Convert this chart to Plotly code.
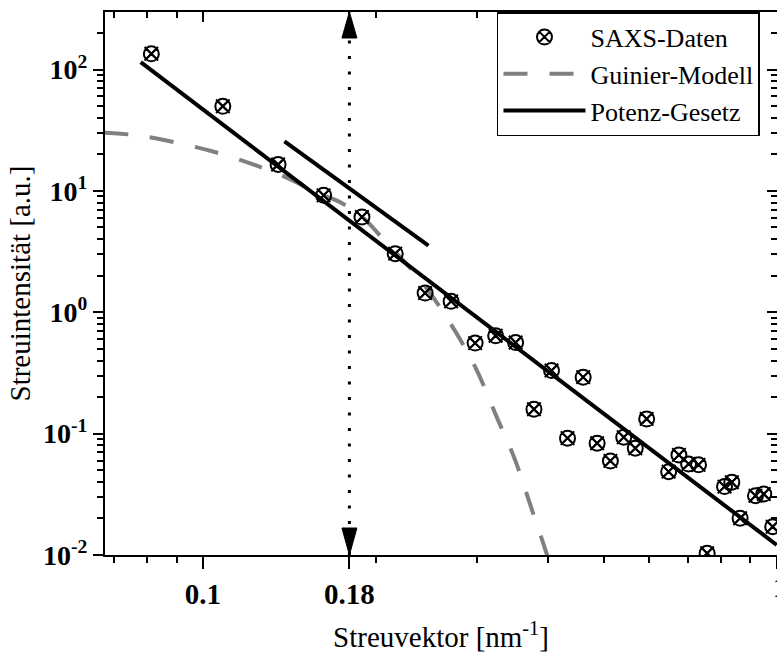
import plotly.graph_objects as go
import math

# ---------------- data ----------------
saxs_q = [0.0813, 0.1083, 0.1352, 0.1623, 0.1893, 0.2163, 0.2439, 0.2707, 0.2981,
          0.3237, 0.3507, 0.3775, 0.4051, 0.4319, 0.4599, 0.4864, 0.5130, 0.5412,
          0.5669, 0.5934, 0.6481, 0.6754, 0.7021, 0.7307, 0.7564, 0.8110, 0.8351,
          0.8634, 0.9183, 0.9493, 0.9840]
saxs_I = [134.7, 49.8, 16.5, 9.19, 6.10, 3.04, 1.44, 1.23, 0.557,
          0.640, 0.563, 0.159, 0.331, 0.0918, 0.292, 0.0834, 0.0596, 0.0935,
          0.0758, 0.1323, 0.0486, 0.0668, 0.0563, 0.0553, 0.01033, 0.0366, 0.0398,
          0.0201, 0.0308, 0.0318, 0.0171]

guinier_q = [0.0673, 0.0783, 0.1037, 0.1340, 0.1611, 0.1723, 0.1890, 0.2078,
             0.2391, 0.2697, 0.2980, 0.3249, 0.3499, 0.3729, 0.3971, 0.4077]
guinier_I = [30.2, 28.3, 21.2, 14.06, 9.31, 8.20, 6.17, 3.84,
             1.854, 0.815, 0.357, 0.138, 0.0608, 0.0250, 0.0103, 0.0068]

power_q = [0.0779, 1.0]
power_I = [114.9, 0.0121]

tangent_q = [0.1387, 0.2472]
tangent_I = [25.6, 3.54]

q_mark = 0.18

x_major = [0.1, 0.18, 1]
x_major_text = ["<b>0.1</b>", "<b>0.18</b>", "<b>1</b>"]
x_minor = [0.07, 0.08, 0.09, 0.2, 0.3, 0.4, 0.5, 0.6, 0.7, 0.8, 0.9]

y_major = [0.01, 0.1, 1, 10, 100]
y_major_text = ["<b>10<sup>-2</sup></b>", "<b>10<sup>-1</sup></b>", "<b>10<sup>0</sup></b>",
                "<b>10<sup>1</sup></b>", "<b>10<sup>2</sup></b>"]
y_minor = [m * 10.0 ** e for e in range(-2, 3) for m in range(2, 10)]

FONT = "Liberation Serif, Times New Roman, serif"

fig = go.Figure()

fig.add_trace(go.Scatter(x=guinier_q, y=guinier_I, mode="lines", name="Guinier-Modell",
                         line=dict(color="#808080", width=4, dash="24px,22px", shape="spline"),
                         legendrank=2))
fig.add_trace(go.Scatter(x=power_q, y=power_I, mode="lines", name="Potenz-Gesetz",
                         line=dict(color="black", width=4), legendrank=3))
fig.add_trace(go.Scatter(x=tangent_q, y=tangent_I, mode="lines", showlegend=False,
                         line=dict(color="black", width=4), hoverinfo="skip"))
fig.add_trace(go.Scatter(x=saxs_q, y=saxs_I, mode="markers", name="SAXS-Daten",
                         marker=dict(symbol="circle-x-open", size=15, color="black",
                                     line=dict(width=2, color="black")),
                         legendrank=1))
fig.add_trace(go.Scatter(x=saxs_q, y=saxs_I, mode="markers", showlegend=False,
                         marker=dict(symbol="x-thin-open", size=13.5, color="black",
                                     line=dict(width=2, color="black")),
                         hoverinfo="skip"))
# helper trace for the mirrored (top / right) axes
fig.add_trace(go.Scatter(x=[0.5], y=[1], xaxis="x2", yaxis="y2", mode="markers",
                         marker=dict(opacity=0), showlegend=False, hoverinfo="skip"))

xr = [math.log10(0.0675), 0.0005]
yr = [-2, 2.474]

fig.update_layout(
    width=777, height=655,
    margin=dict(l=105, r=0, t=12, b=100),
    paper_bgcolor="white", plot_bgcolor="white",
    font=dict(family=FONT, color="black", size=28),
    showlegend=True,
    legend=dict(x=0.5833, y=1, xanchor="left", yanchor="top",
                bgcolor="white", bordercolor="black", borderwidth=1.5,
                font=dict(family=FONT, size=26, color="black"),
                itemwidth=82, tracegroupgap=0),
    xaxis=dict(type="log", range=xr, showline=True, linewidth=2, linecolor="black",
               mirror=False, showgrid=False, zeroline=False,
               ticks="outside", ticklen=12, tickwidth=2, tickcolor="black",
               tickmode="array", tickvals=x_major, ticktext=x_major_text,
               tickfont=dict(family=FONT, size=29, color="black"),
               minor=dict(ticks="outside", ticklen=6, tickwidth=1.5, tickcolor="black",
                          tickmode="array", tickvals=x_minor, showgrid=False),
               title=dict(text="Streuvektor [nm<sup>-1</sup>]",
                          font=dict(family=FONT, size=29, color="black"), standoff=18),
               automargin=False),
    xaxis2=dict(type="log", range=xr, overlaying="x", side="top", anchor="y2",
                showline=True, linewidth=2, linecolor="black", showgrid=False, zeroline=False,
                ticks="inside", ticklen=10, tickwidth=2, tickcolor="black",
                tickmode="array", tickvals=x_major, showticklabels=False,
                minor=dict(ticks="inside", ticklen=6, tickwidth=1.5, tickcolor="black",
                           tickmode="array", tickvals=x_minor, showgrid=False),
                automargin=False),
    yaxis=dict(type="log", range=yr, showline=True, linewidth=2, linecolor="black",
               showgrid=False, zeroline=False,
               ticks="outside", ticklen=10, tickwidth=2, tickcolor="black",
               tickmode="array", tickvals=y_major, ticktext=y_major_text,
               tickfont=dict(family=FONT, size=28, color="black"),
               minor=dict(ticks="outside", ticklen=6, tickwidth=1.5, tickcolor="black",
                          tickmode="array", tickvals=y_minor, showgrid=False),
               title=dict(text="Streuintensität [a.u.]",
                          font=dict(family=FONT, size=29, color="black"), standoff=4),
               automargin=False),
    yaxis2=dict(type="log", range=yr, overlaying="y", side="right", anchor="x2",
                showline=False, showgrid=False, zeroline=False,
                ticks="inside", ticklen=10, tickwidth=2, tickcolor="black",
                tickmode="array", tickvals=y_major, showticklabels=False,
                minor=dict(ticks="inside", ticklen=6, tickwidth=1.5, tickcolor="black",
                           tickmode="array", tickvals=y_minor, showgrid=False),
                automargin=False),
    annotations=[
        dict(text="<b>1</b>", xref="paper", yref="paper", x=1, y=0, xanchor="center",
             yanchor="top", xshift=3, yshift=-14, showarrow=False,
             font=dict(family=FONT, size=29, color="black")),
    ],
    shapes=[
        dict(type="line", xref="x", yref="paper", x0=q_mark, x1=q_mark, y0=0, y1=1,
             line=dict(color="black", width=3, dash="3px,12.5px")),
        dict(type="path", xref="x", yref="paper", xsizemode="pixel", ysizemode="pixel",
             xanchor=q_mark, yanchor=1, path="M-7.5,-26 L7.5,-26 L0,0 Z",
             fillcolor="black", line=dict(color="black", width=1)),
        dict(type="path", xref="x", yref="paper", xsizemode="pixel", ysizemode="pixel",
             xanchor=q_mark, yanchor=0, path="M-7.5,27 L7.5,27 L0,0 Z",
             fillcolor="black", line=dict(color="black", width=1)),
    ],
)

fig.write_html("out.html")
